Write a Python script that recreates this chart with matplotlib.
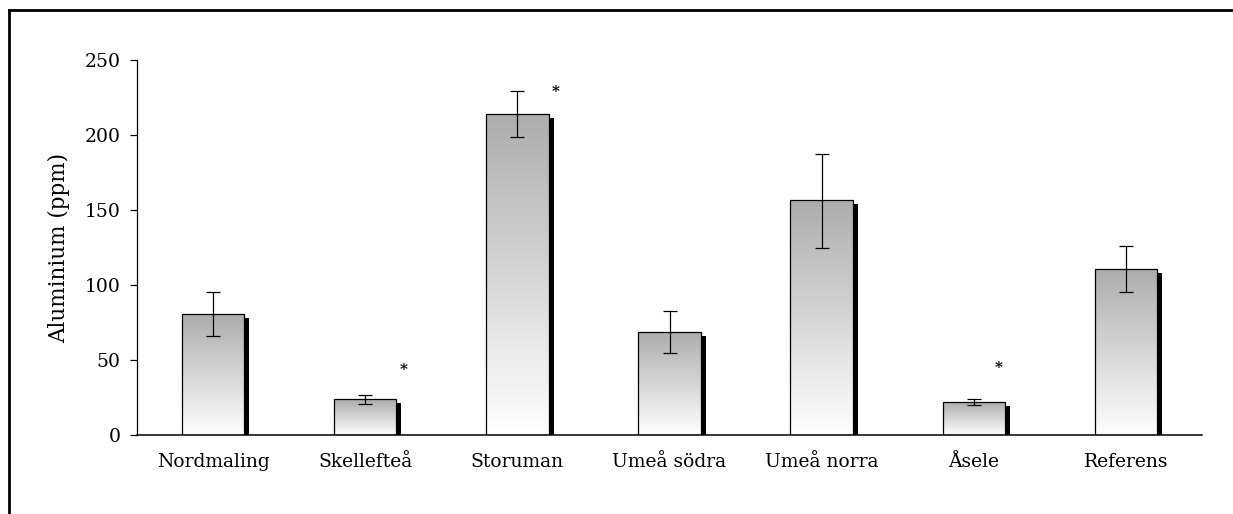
"""Aluminium (ppm) per site, bars with gradient fill, drop shadow and error bars."""

import matplotlib.pyplot as plt
import matplotlib.transforms as mtransforms
import numpy as np
from matplotlib.lines import Line2D

sites = ["Nordmaling", "Skellefteå", "Storuman", "Umeå södra", "Umeå norra", "Åsele", "Referens"]
means = [80.5, 24, 214, 68.5, 156.5, 22, 110.5]
upper = [95.3, 27, 229.5, 82.5, 187.5, 24, 126]
lower = [66, 21, 198.5, 55, 125, 20, 95.5]

# significance markers: (site index, x offset, y)
star_sites = [1, 2, 5]
star_dx = [0.25, 0.25, 0.16]
star_y = [43, 229, 45]

plt.rcParams.update({
    "font.family": ["DejaVu Serif"],
    "font.size": 13.5,
})

fig = plt.figure(figsize=(12.33, 5.14), dpi=100)
ax = fig.add_axes([137 / 1233, 1 - 435 / 514, (1202 - 137) / 1233, (435 - 60) / 514])

x = np.arange(len(sites))
width = 0.41

# shadow bars, shifted right and down
shadow_tf = ax.transData + mtransforms.ScaledTranslation(5 / 100, -4 / 100, fig.dpi_scale_trans)
ax.bar(x, means, width=width, color="black", transform=shadow_tf, zorder=1)

bars = ax.bar(x, means, width=width, facecolor="none", edgecolor="black", linewidth=0.9, zorder=3)

grad = np.linspace(1, 0, 256).reshape(-1, 1)
cmap = plt.matplotlib.colors.LinearSegmentedColormap.from_list("g", ["#ffffff", "#adadad"])
for b in bars:
    x0, y0 = b.get_x(), b.get_y()
    w, h = b.get_width(), b.get_height()
    im = ax.imshow(grad, extent=[x0, x0 + w, y0, y0 + h], aspect="auto", cmap=cmap,
                   vmin=0, vmax=1, zorder=2, origin="upper")
    im.set_clip_path(b)

err = [np.array(means) - np.array(lower), np.array(upper) - np.array(means)]
ax.errorbar(x, means, yerr=err, fmt="none", ecolor="black", elinewidth=0.9,
            capsize=5, capthick=0.9, zorder=4)

for i, dx, yv in zip(star_sites, star_dx, star_y):
    ax.text(i + dx, yv, "*", ha="center", va="center", fontsize=11, fontweight="bold")

ax.set_xlim(-0.5, 6.5)
ax.set_ylim(0, 250)
ax.set_yticks(range(0, 251, 50))
ax.set_xticks(x)
ax.set_xticklabels(sites)
ax.tick_params(axis="x", length=0, pad=13)
ax.tick_params(axis="y", length=5, width=0.9, pad=7)
for s in ["top", "right"]:
    ax.spines[s].set_visible(False)
ax.spines["left"].set_linewidth(0.9)
ax.spines["bottom"].set_linewidth(1.1)
ax.set_ylabel("Aluminium (ppm)", fontsize=15.5, labelpad=10)

# outer frame (top and left edges only)
fig.add_artist(Line2D([9 / 1233, 9 / 1233], [0, 1 - 10 / 514], color="black", lw=2, transform=fig.transFigure))
fig.add_artist(Line2D([9 / 1233, 1], [1 - 10 / 514, 1 - 10 / 514], color="black", lw=2, transform=fig.transFigure))

fig.savefig("out.png", dpi=100)
